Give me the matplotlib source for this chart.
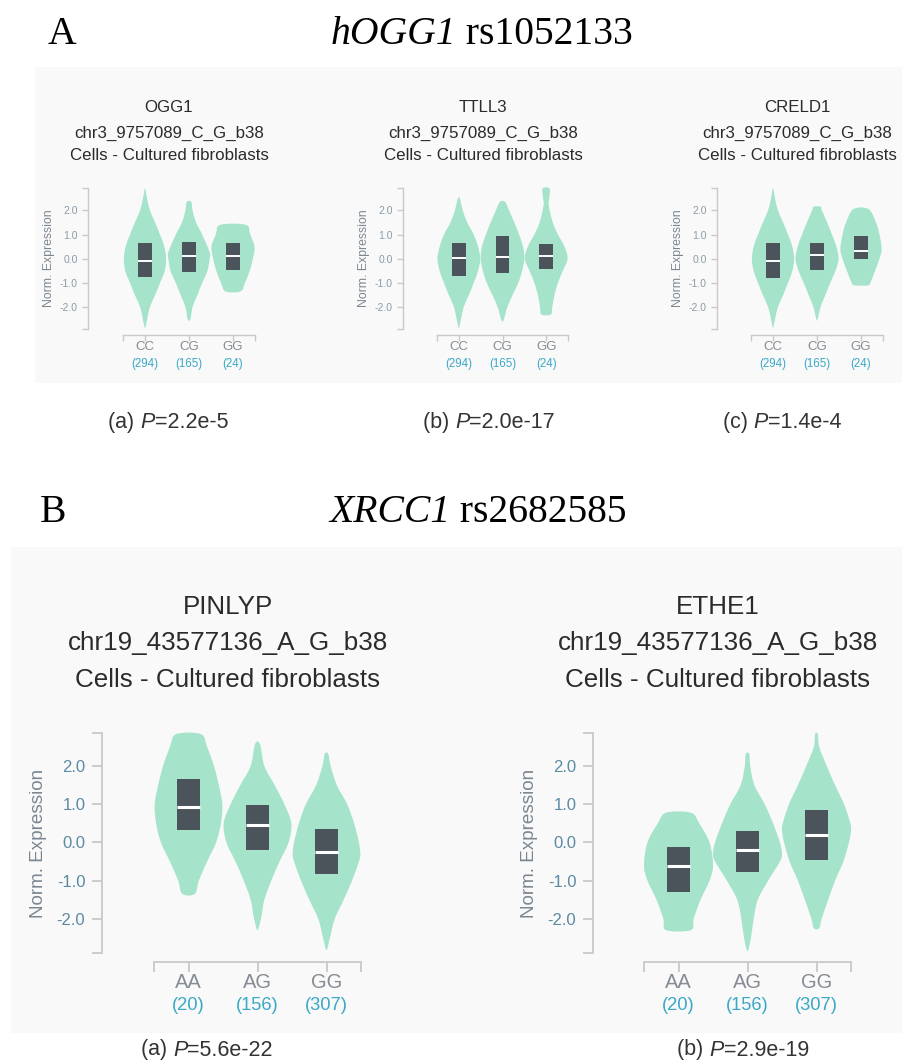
import matplotlib
matplotlib.use("Agg")
import matplotlib.pyplot as plt
import matplotlib.patches as patches
from matplotlib.path import Path
import numpy as np

W, H = 902, 1061

# --- DATA ---
# violin profiles: (expression value, half width in category units), top -> bottom
# boxes: (q3, q1, median)
top_genes = ["OGG1", "TTLL3", "CRELD1"]
top_variant = "chr3_9757089_C_G_b38"
top_genotypes = ["CC", "CG", "GG"]
top_counts = [294, 165, 24]
top_pvals = ["2.2e-5", "2.0e-17", "1.4e-4"]

ogg1_profiles = [
    [(2.9, 0), (2.5, .045), (2.0, .11), (1.5, .23), (1.0, .34), (0.5, .44), (0.0, .48),
     (-0.5, .45), (-1.0, .34), (-1.5, .23), (-2.0, .11), (-2.5, .05), (-2.85, 0)],
    [(2.35, .05), (2.0, .08), (1.5, .16), (1.0, .30), (0.5, .42), (0.2, .48), (0.0, .47),
     (-0.5, .42), (-1.0, .30), (-1.5, .19), (-2.0, .08), (-2.5, .03)],
    [(1.4, .29), (1.0, .39), (0.5, .49), (0.0, .45), (-0.5, .38), (-1.0, .27), (-1.35, .17)],
]
ogg1_boxes = [(0.67, -0.75, -0.08), (0.71, -0.56, 0.10), (0.67, -0.48, 0.10)]

ttll3_profiles = [
    [(2.55, 0), (2.0, .09), (1.5, .19), (1.0, .34), (0.5, .44), (0.0, .49), (-0.5, .44),
     (-1.0, .34), (-1.5, .23), (-2.0, .11), (-2.5, .05), (-2.85, 0)],
    [(2.35, .06), (2.0, .15), (1.5, .27), (1.0, .38), (0.5, .47), (0.0, .50), (-0.5, .45),
     (-1.0, .36), (-1.5, .23), (-2.0, .11), (-2.6, 0)],
    [(2.9, .08), (2.5, .07), (2.2, .06), (1.5, .15), (1.0, .27), (0.5, .42), (0.0, .49),
     (-0.5, .38), (-1.0, .27), (-1.5, .19), (-2.0, .14), (-2.3, .11)],
]
ttll3_boxes = [(0.64, -0.70, 0.03), (0.92, -0.59, 0.07), (0.60, -0.42, 0.12)]

creld1_profiles = [
    [(2.9, 0), (2.5, .045), (2.0, .11), (1.5, .23), (1.0, .34), (0.5, .44), (0.0, .48),
     (-0.5, .44), (-1.0, .34), (-1.5, .23), (-2.0, .11), (-2.5, .045), (-2.85, 0)],
    [(2.15, .08), (2.0, .11), (1.5, .23), (1.0, .34), (0.5, .44), (0.0, .49), (-0.5, .42),
     (-1.0, .30), (-1.5, .19), (-2.0, .08), (-2.5, .015)],
    [(2.05, .17), (1.5, .34), (1.0, .42), (0.4, .47), (0.0, .42), (-0.5, .32), (-1.0, .21),
     (-1.1, .15)],
]
creld1_boxes = [(0.67, -0.79, -0.11), (0.67, -0.48, 0.16), (0.95, 0.0, 0.30)]

bot_genes = ["PINLYP", "ETHE1"]
bot_variant = "chr19_43577136_A_G_b38"
bot_genotypes = ["AA", "AG", "GG"]
bot_counts = [20, 156, 307]
bot_pvals = ["5.6e-22", "2.9e-19"]

pinlyp_profiles = [
    [(2.84, .18), (2.5, .27), (2.0, .37), (1.5, .44), (1.0, .49), (0.5, .47), (0.0, .40),
     (-0.5, .27), (-1.0, .15), (-1.35, .09)],
    [(2.58, .035), (2.0, .10), (1.5, .25), (1.0, .39), (0.5, .49), (0.0, .45), (-0.5, .32),
     (-1.0, .20), (-1.5, .10), (-2.0, .05), (-2.3, 0)],
    [(2.32, .025), (2.0, .06), (1.5, .15), (1.0, .30), (0.5, .40), (0.0, .47), (-0.3, .49),
     (-0.5, .47), (-1.0, .37), (-1.5, .25), (-2.0, .12), (-2.5, .05), (-2.82, 0)],
]
pinlyp_boxes = [(1.66, 0.32, 0.92), (0.97, -0.20, 0.45), (0.36, -0.82, -0.24)]

ethe1_profiles = [
    [(0.78, .18), (0.5, .30), (0.0, .45), (-0.6, .50), (-1.0, .45), (-1.5, .32), (-2.0, .22),
     (-2.3, .18)],
    [(2.32, .025), (2.0, .04), (1.5, .10), (1.0, .25), (0.5, .37), (0.0, .47), (-0.3, .50),
     (-0.5, .47), (-1.0, .30), (-1.5, .15), (-2.0, .09), (-2.5, .05), (-2.85, 0)],
    [(2.84, .02), (2.5, .04), (2.0, .15), (1.5, .27), (1.0, .40), (0.5, .49), (0.3, .50),
     (0.0, .47), (-0.5, .39), (-1.0, .27), (-1.5, .17), (-2.0, .075), (-2.25, .04)],
]
ethe1_boxes = [(-0.13, -1.30, -0.63), (0.30, -0.78, -0.20), (0.84, -0.46, 0.19)]

ytick_vals = [-2, -1, 0, 1, 2]
ytick_labels = ["-2.0", "-1.0", "0.0", "1.0", "2.0"]

# --- STYLE ---
VIOLIN = '#a5e4cb'
BOX = '#4b545b'
SPINE = '#c9c9c9'
BG = '#f9f9f9'
TITLE_C = '#2b2b2b'
SANS = 'Liberation Sans'
SERIF = 'Liberation Serif'

plt.rcParams['font.family'] = [SANS, 'DejaVu Sans']
plt.rcParams['axes.unicode_minus'] = False


def fx(x): return x / W
def fy(y): return 1 - y / H
def pt(px): return px * 0.72


def smooth_outline(center, profile):
    # closed catmull-rom outline through the profile points (right side down, left side up)
    right = [(center + w, v) for v, w in profile]
    left = [(center - w, v) for v, w in profile[::-1] if w > 0]
    pts = np.array(right + left, dtype=float)
    n = len(pts)
    verts = [pts[0]]
    codes = [Path.MOVETO]
    for i in range(n):
        p0, p1, p2, p3 = pts[i - 1], pts[i], pts[(i + 1) % n], pts[(i + 2) % n]
        verts += [p1 + (p2 - p0) / 6, p2 - (p3 - p1) / 6, p2]
        codes += [Path.CURVE4] * 3
    verts.append(pts[0])
    codes.append(Path.CLOSEPOLY)
    return Path(verts, codes)


def draw_runs(fig, x, y, runs, size, color, family):
    # runs: list of (text, style); centered at pixel x, y
    r = fig.canvas.get_renderer()
    txts = []
    for s, style in runs:
        t = fig.text(0, fy(y), s, fontsize=size, color=color, family=family,
                     style=style, va='center', ha='left')
        txts.append(t)
    widths = [t.get_window_extent(renderer=r).width for t in txts]
    xx = x - sum(widths) / 2
    for t, w in zip(txts, widths):
        t.set_x(fx(xx))
        xx += w


def violin_panel(fig, box_px, yspine_x, xspine_y, profiles, boxes, genotypes, counts,
                 ylim, big):
    L, R, T, B = box_px
    ax = fig.add_axes([fx(L), fy(B), fx(R - L), (B - T) / H])
    ax.set_facecolor('none')
    ax.set_xlim(-0.5, 2.5)
    ax.set_ylim(*ylim)
    for s in ['top', 'right']:
        ax.spines[s].set_visible(False)
    ax.spines['left'].set_position(('outward', pt(L - yspine_x)))
    ax.spines['bottom'].set_position(('outward', pt(xspine_y - B)))
    lw = 1.3 if big else 1.0
    for s in ['left', 'bottom']:
        ax.spines[s].set_color(SPINE)
        ax.spines[s].set_linewidth(lw)

    ax.set_yticks(ytick_vals)
    ax.set_yticklabels(ytick_labels)
    ax.set_yticks(list(ylim), minor=True)
    ax.set_xticks(range(len(genotypes)))
    ax.set_xticklabels([])
    ax.set_xticks([-0.5, 2.5], minor=True)
    tlen = 7 if big else 4
    ax.tick_params(which='both', color=SPINE, width=lw, length=tlen, direction='out')
    ax.tick_params(axis='y', labelsize=12 if big else 7.5, pad=5 if big else 3.5,
                   labelcolor='#5b8aa3' if big else '#8a9ca8')

    for i, (prof, bx) in enumerate(zip(profiles, boxes)):
        ax.add_patch(patches.PathPatch(smooth_outline(i, prof), facecolor=VIOLIN,
                                       edgecolor='none', clip_on=False, zorder=2))
        q3, q1, med = bx
        hw = 0.17 if big else 0.16
        ax.add_patch(patches.Rectangle((i - hw, q1), 2 * hw, q3 - q1, facecolor=BOX,
                                       edgecolor='none', zorder=3, clip_on=False))
        ax.plot([i - hw, i + hw], [med, med], color='white', lw=2.2 if big else 1.4,
                solid_capstyle='butt', zorder=4)

    g_off = pt((983 - 953) if big else (347 - 329))
    c_off = pt((1005 - 953) if big else (364 - 329))
    for i, (g, n) in enumerate(zip(genotypes, counts)):
        ax.annotate(g, xy=(i, 0), xycoords=('data', 'axes fraction'), xytext=(0, -g_off),
                    textcoords='offset points', ha='center', va='center',
                    fontsize=14.5 if big else 9.5, color='#858c93')
        ax.annotate(f"({n})", xy=(i, 0), xycoords=('data', 'axes fraction'),
                    xytext=(0, -c_off), textcoords='offset points', ha='center',
                    va='center', fontsize=13.2 if big else 8.3, color='#3ba8c6')

    lab_x = yspine_x - (63 if big else 39)
    fig.text(fx(lab_x), fy((T + B) / 2), "Norm. Expression", rotation=90,
             ha='center', va='center', fontsize=13.6 if big else 8.8, color='#7b8691')
    return ax


fig = plt.figure(figsize=(W / 100, H / 100), dpi=100, facecolor='white')

# background panels
fig.add_artist(patches.Rectangle((fx(35), fy(383)), fx(W - 35), (383 - 67) / H,
                                 transform=fig.transFigure, facecolor=BG, edgecolor='none',
                                 zorder=0))
fig.add_artist(patches.Rectangle((fx(11), fy(1033)), fx(W - 11), (1033 - 547) / H,
                                 transform=fig.transFigure, facecolor=BG, edgecolor='none',
                                 zorder=0))

# headings
fig.text(fx(48), fy(34), "A", fontsize=28.5, family=SERIF, color='black', va='center')
draw_runs(fig, 482, 34, [("hOGG1", 'italic'), (" rs1052133", 'normal')], 28.5, 'black', SERIF)
fig.text(fx(40), fy(513), "B", fontsize=28.5, family=SERIF, color='black', va='center')
draw_runs(fig, 478, 513, [("XRCC1", 'italic'), (" rs2682585", 'normal')], 28.5, 'black', SERIF)

# top row
top_profiles = [ogg1_profiles, ttll3_profiles, creld1_profiles]
top_boxes = [ogg1_boxes, ttll3_boxes, creld1_boxes]
top_px = [(123, 255, 188, 329, 88), (437, 568, 188, 329, 403), (751, 883, 188, 329, 717)]
top_title_x = [169, 483, 797]
top_p_x = [168, 489, 782]
for k in range(3):
    L, R, T, B, ys = top_px[k]
    violin_panel(fig, (L, R, T, B), ys, 335, top_profiles[k], top_boxes[k],
                 top_genotypes, top_counts, (-2.9, 2.92), big=False)
    for line, yy in zip([top_genes[k], top_variant, "Cells - Cultured fibroblasts"],
                        [107, 133, 156]):
        fig.text(fx(top_title_x[k]), fy(yy), line, ha='center', va='center',
                 fontsize=12.2, color=TITLE_C)
    draw_runs(fig, top_p_x[k], 422,
              [(f"({'abc'[k]}) ", 'normal'), ("P", 'italic'), (f"={top_pvals[k]}", 'normal')],
              15.5, '#333333', SANS)

# bottom row
bot_profiles = [pinlyp_profiles, ethe1_profiles]
bot_boxes = [pinlyp_boxes, ethe1_boxes]
bot_px = [(154, 361, 733, 953, 102), (644, 851, 733, 953, 593)]
bot_title_x = [228, 718]
bot_p_x = [207, 743]
for k in range(2):
    L, R, T, B, ys = bot_px[k]
    violin_panel(fig, (L, R, T, B), ys, 962, bot_profiles[k], bot_boxes[k],
                 bot_genotypes, bot_counts, (-2.9, 2.87), big=True)
    for line, yy in zip([bot_genes[k], bot_variant, "Cells - Cultured fibroblasts"],
                        [607, 643, 680]):
        fig.text(fx(bot_title_x[k]), fy(yy), line, ha='center', va='center',
                 fontsize=18.7, color=TITLE_C)
    draw_runs(fig, bot_p_x[k], 1050,
              [(f"({'ab'[k]}) ", 'normal'), ("P", 'italic'), (f"={bot_pvals[k]}", 'normal')],
              15.5, '#333333', SANS)

fig.savefig("out.png", dpi=100, facecolor='white')
